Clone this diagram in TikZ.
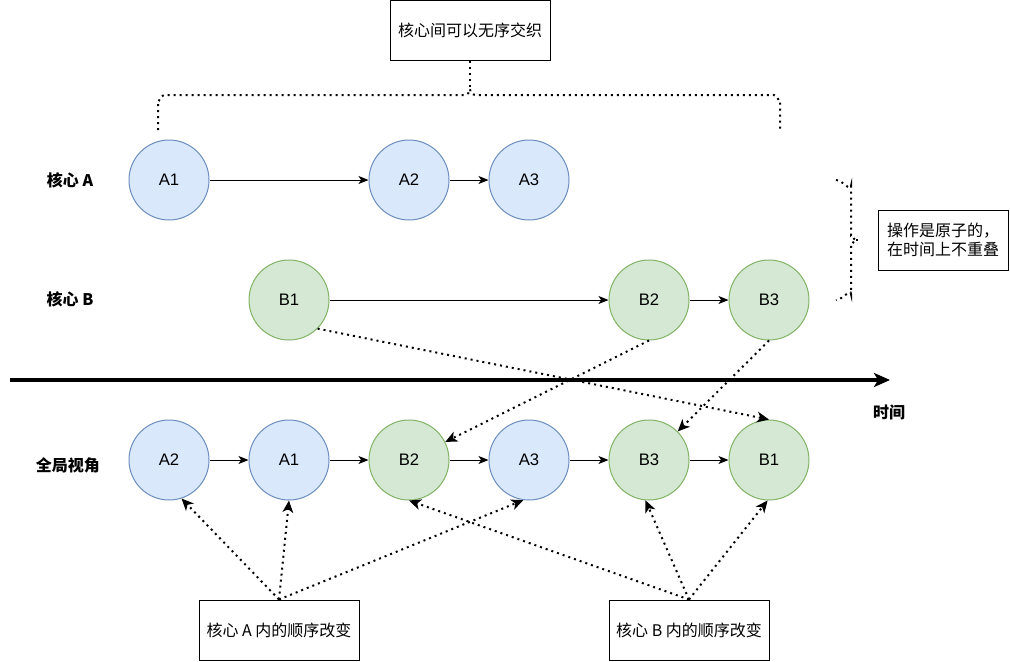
\documentclass[tikz,border=0pt]{standalone}
\usepackage{fontspec}
\setmainfont{Noto Sans CJK SC}
\newfontfamily\latinfont{Liberation Sans}
\usetikzlibrary{arrows.meta}
\definecolor{bfill}{HTML}{DAE8FC}
\definecolor{bline}{HTML}{6C8EBF}
\definecolor{gfill}{HTML}{D5E8D4}
\definecolor{gline}{HTML}{82B366}
\begin{document}
\begin{tikzpicture}[x=0.75pt,y=-0.75pt,
  every node/.style={font=\fontsize{12}{14.4}\selectfont, inner sep=0pt},
  cA/.style={circle, minimum size=60pt, fill=bfill, draw=bline, line width=0.75pt, font=\latinfont\fontsize{12.5}{14}\selectfont},
  cB/.style={cA, fill=gfill, draw=gline},
  lbl/.style={font=\bfseries\fontsize{12}{14}\selectfont},
  txtbox/.style={draw=black, line width=0.75pt, minimum width=120pt, minimum height=45pt, align=center},
  seq/.style={-{Stealth[length=7.5pt,width=6pt,inset=2pt]}, line width=0.75pt},
  dots/.style={line width=1.5pt, dash pattern=on 1.5pt off 3pt},
  darr/.style={dots, -{Stealth[length=9pt,width=8pt,inset=2.5pt]}}
]
\useasboundingbox (0,0) rectangle (1010,661);
\fill[white] (0,0) rectangle (1010,661);

% row labels
\node[lbl] (lA) at (70,180) {核心 A};
\node[lbl] (lB) at (70,299) {核心 B};
\node[lbl] (lG) at (68,465) {全局视角};
\node[lbl] (lT) at (889,412) {时间};

% core A
\node[cA] (A1) at (169,180) {A1};
\node[cA] (A2) at (409,180) {A2};
\node[cA] (A3) at (529,180) {A3};
% core B
\node[cB] (B1) at (289,300) {B1};
\node[cB] (B2) at (649,300) {B2};
\node[cB] (B3) at (769,300) {B3};
% global
\node[cA] (gA2) at (169,460) {A2};
\node[cA] (gA1) at (289,460) {A1};
\node[cB] (gB2) at (409,460) {B2};
\node[cA] (gA3) at (529,460) {A3};
\node[cB] (gB3) at (649,460) {B3};
\node[cB] (gB1) at (769,460) {B1};

\draw[seq] (A1) -- (A2);
\draw[seq] (A2) -- (A3);
\draw[seq] (B1) -- (B2);
\draw[seq] (B2) -- (B3);
\draw[seq] (gA2) -- (gA1);
\draw[seq] (gA1) -- (gB2);
\draw[seq] (gB2) -- (gA3);
\draw[seq] (gA3) -- (gB3);
\draw[seq] (gB3) -- (gB1);

% time axis
\coordinate (axL) at (10,380);
\coordinate (axR) at (890,380);
\draw[line width=3pt, -{Stealth[length=12pt,width=10.5pt,inset=3pt]}] (axL) -- (axR);

% text boxes
\node[txtbox] (top) at (470,30) {核心间可以无序交织};
\node[txtbox, minimum width=97.5pt] (atom) at (943,240) {操作是原子的，\\在时间上不重叠};
\node[txtbox] (boxA) at (279,630) {核心 A 内的顺序改变};
\node[txtbox] (boxB) at (689,630) {核心 B 内的顺序改变};

% top brace
\coordinate (spike) at (470,89);
\draw[dots] (158,130) -- (158,101) to[out=-90,in=180] (164,95) -- (464,95)
  to[out=0,in=-90] (spike) to[out=-90,in=180] (476,95) -- (774,95)
  to[out=0,in=-90] (780,101) -- (780,130);
\draw[dots] (top.south) -- (spike);

% right brace
\coordinate (rspike) at (856,240);
\draw[dots] (836,180) to[out=0,in=-90] (851,186) -- (851,235)
  to[out=90,in=180] (rspike) to[out=180,in=-90] (851,245) -- (851,294)
  to[out=90,in=0] (836,300);
\draw[dots] (rspike) -- (862,240);

% dotted arrows from cores to global view
\draw[darr] (B1.-45) -- (gB1.north);
\draw[darr] (B2.south) -- (gB2);
\draw[darr] (B3.south) -- (gB3);

% dotted arrows from boxes
\draw[darr] (boxA.north) -- (gA2.-72);
\draw[darr] (boxA.north) -- (gA1.south);
\draw[darr] (boxA.north) -- (gA3.-98);
\draw[darr] (boxB.north) -- (gB2.south);
\draw[darr] (boxB.north) -- (gB3.-95);
\draw[darr] (boxB.north) -- (gB1.-92);
\end{tikzpicture}
\end{document}
